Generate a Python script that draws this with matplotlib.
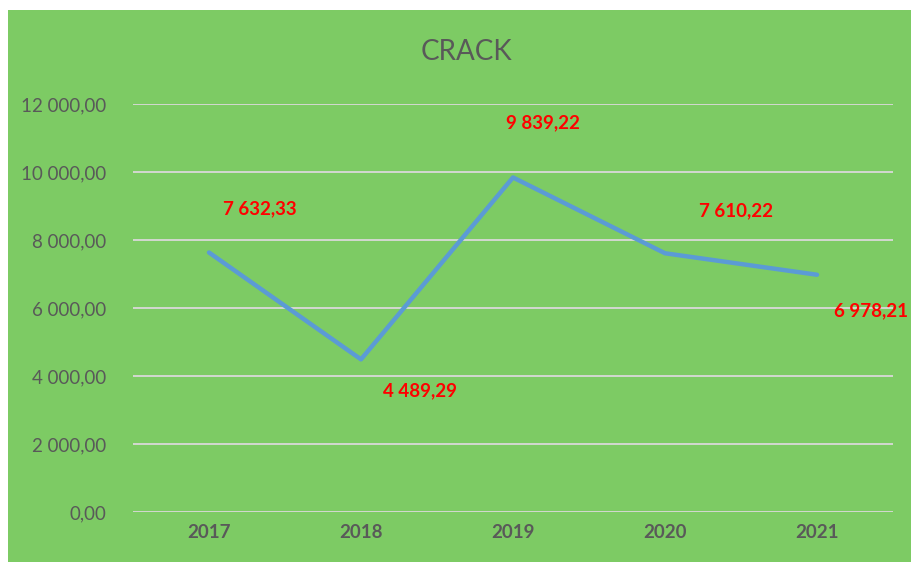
import matplotlib
matplotlib.use("Agg")
import matplotlib.pyplot as plt
from matplotlib.patches import Rectangle

years = ["2017", "2018", "2019", "2020", "2021"]
values = [7632.33, 4489.29, 9839.22, 7610.22, 6978.21]
label_texts = ["7 632,33", "4 489,29", "9 839,22", "7 610,22", "6 978,21"]
yticks = [0, 2000, 4000, 6000, 8000, 10000, 12000]
ytick_labels = ["0,00", "2 000,00", "4 000,00", "6 000,00", "8 000,00", "10 000,00", "12 000,00"]
# label offsets in pixels (dx, dy) relative to the point
label_offsets = [(51, 44), (59, -31), (30, 55), (71, 43), (54, -36)]

W, H = 911, 562
fig = plt.figure(figsize=(W / 100, H / 100), dpi=100)
fig.patch.set_facecolor("white")
green = "#7DCB64"
fig.patches.append(Rectangle((8 / W, 0), 1 - 8 / W, 1 - 10 / H, transform=fig.transFigure,
                             facecolor=green, edgecolor="none", zorder=-10))

ax = fig.add_axes([133 / W, 50 / H, (893 - 133) / W, (512 - 104) / H])
ax.set_facecolor("none")
ax.set_xlim(-0.5, 4.5)
ax.set_ylim(0, 12000)
ax.set_yticks(yticks)
ax.set_yticklabels(ytick_labels)
ax.grid(axis="y", color="#D9D9D9", linewidth=1.3)
ax.set_axisbelow(True)
for s in ax.spines.values():
    s.set_visible(False)
ax.tick_params(length=0)
ax.tick_params(axis="y", pad=19, labelsize=13.5, labelcolor="#595959")
ax.tick_params(axis="x", pad=9, labelsize=13.5, labelcolor="#595959")
x = list(range(len(years)))
ax.set_xticks(x)
ax.set_xticklabels(years, fontweight="bold")
for t in ax.get_yticklabels() + ax.get_xticklabels():
    t.set_family("Lato")

ax.plot(x, values, color="#5B9BD5", linewidth=3.2, solid_capstyle="round", solid_joinstyle="round")

for xi, v, txt, (dx, dy) in zip(x, values, label_texts, label_offsets):
    ax.annotate(txt, (xi, v), xytext=(dx, dy), textcoords="offset pixels",
                ha="center", va="center", color="#FF0000", fontsize=13.5,
                fontweight="bold", family="Lato", annotation_clip=False)

fig.text(466 / W, 1 - 52 / H, "CRACK", ha="center", va="center", fontsize=20,
         color="#595959", family="Lato")

fig.savefig("out.png", dpi=100, facecolor=fig.get_facecolor())
